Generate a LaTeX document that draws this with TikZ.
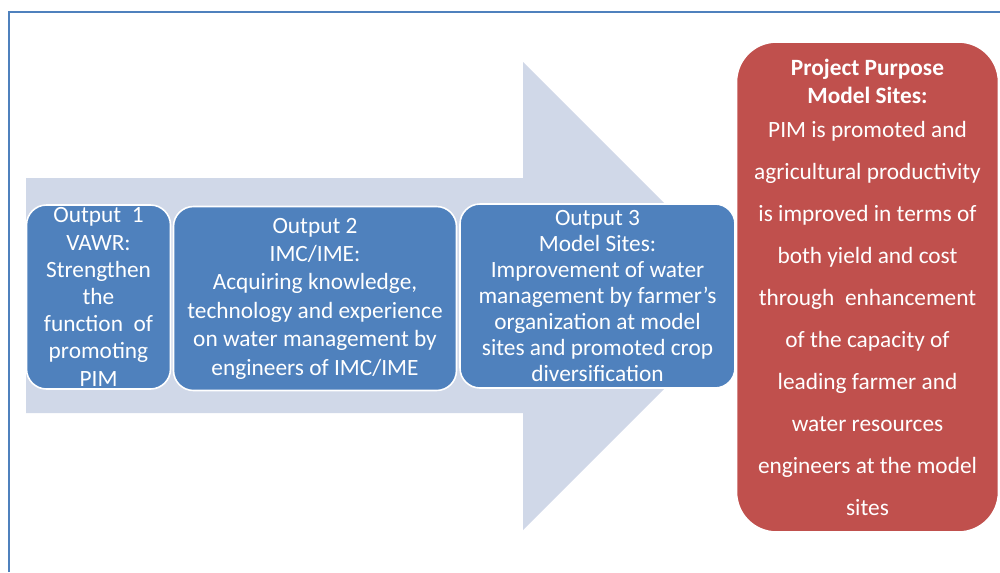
\documentclass[tikz,border=0pt]{standalone}
\usepackage{fontspec}
\setmainfont{Carlito}
\usepackage{tikz}
\usepackage{xcolor}
\usetikzlibrary{shapes.geometric, positioning, calc}

\definecolor{frameblue}{HTML}{4F81BD}
\definecolor{boxblue}{HTML}{4F81BD}
\definecolor{arrowgrey}{HTML}{D0D8E8}
\definecolor{goalred}{HTML}{C0504D}

\newlength{\pxu}
\setlength{\pxu}{0.75pt}

\begin{document}
\begin{tikzpicture}[x=0.75pt, y=-0.75pt,
    outbox/.style={draw=white, line width=1.2pt, fill=boxblue, rounded corners=15pt,
        text=white, align=center, inner sep=0pt, minimum height=184\pxu,
        font=\fontsize{17.5}{20.4}\selectfont},
    goalbox/.style={draw=white, line width=1.2pt, fill=goalred, rounded corners=30pt,
        text=white, align=center, inner sep=0pt, minimum width=262\pxu,
        minimum height=490\pxu, font=\fontsize{17.5}{31.5}\selectfont}]
    \useasboundingbox (0,0) rectangle (1000,572);

    % Frame
    \draw[frameblue, line width=1.5pt] (9,572) -- (9,12) -- (1000,12);

    % Big arrow behind the outputs
    \fill[arrowgrey] (26,178) -- (523,178) -- (523,62) -- (757,296)
        -- (523,530) -- (523,413) -- (26,413) -- cycle;

    % Outputs
    \node[outbox, minimum width=144\pxu] (out1) at (98.5,297)
        {Output\ \ 1\\VAWR:\\Strengthen\\the\\function\ \ of\\promoting\\PIM};
    \node[outbox, minimum width=283\pxu, font=\fontsize{17.5}{21.3}\selectfont] (out2) at (315,298.5)
        {Output 2\\IMC/IME:\\Acquiring knowledge,\\technology and experience\\on water management by\\engineers of IMC/IME};
    \node[outbox, minimum width=275\pxu, font=\fontsize{17.5}{19.4}\selectfont] (out3) at (597.5,296)
        {Output 3\\Model Sites:\\Improvement of water\\management by farmer’s\\organization at model\\sites and promoted crop\\diversification};

    % Project purpose
    \node[goalbox] (purpose) at (867.5,287)
        {\bfseries Project Purpose\\[-10.5pt]
         \bfseries Model Sites:\\[-6pt]
         PIM is promoted and\\agricultural productivity\\is improved in terms of\\both yield and cost\\through\ \ enhancement\\of the capacity of\\leading farmer and\\water resources\\engineers at the model\\sites};
\end{tikzpicture}
\end{document}
